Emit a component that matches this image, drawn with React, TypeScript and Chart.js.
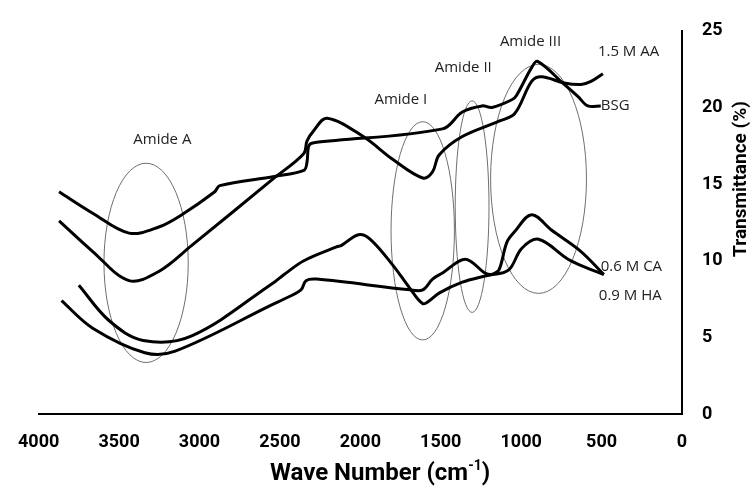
import React, { useEffect, useRef } from "react";
import { Chart, registerables } from "chart.js";

Chart.register(...registerables);

// ---- Data (wave number in cm-1, transmittance in %) ----
const bsgWave = [3873, 3664, 3438, 3253, 3110, 2905, 2874, 2535, 2351, 2332, 2320, 2289, 1489, 1366, 1243, 1182, 1058, 1028, 935, 898, 732, 646, 585, 505];
const bsgT = [14.5, 13.1, 11.8, 12.2, 13.0, 14.5, 14.9, 15.5, 15.9, 16.4, 17.5, 17.7, 18.6, 19.7, 20.1, 20.0, 20.5, 20.8, 22.6, 23.0, 21.5, 20.7, 20.1, 20.1];

const aaWave = [3873, 3664, 3438, 3253, 3048, 2535, 2351, 2332, 2289, 2207, 1982, 1797, 1612, 1551, 1510, 1366, 1138, 1040, 935, 874, 732, 628, 566, 492];
const aaT = [12.6, 10.6, 8.7, 9.3, 11.0, 15.4, 17.0, 17.8, 18.5, 19.3, 18.1, 16.6, 15.4, 15.8, 16.9, 18.1, 19.1, 19.6, 21.7, 22.0, 21.6, 21.5, 21.7, 22.2];

const caWave = [3750, 3563, 3350, 3048, 2535, 2474, 2351, 2148, 2117, 2012, 1938, 1797, 1692, 1612, 1569, 1508, 1366, 1225, 1182, 1138, 1089, 1040, 935, 812, 628, 486];
const caT = [8.4, 6.1, 4.8, 5.1, 8.6, 9.1, 10.0, 10.9, 11.0, 11.7, 11.4, 9.7, 8.2, 7.2, 7.4, 7.9, 8.6, 9.0, 9.1, 9.4, 11.2, 11.9, 13.0, 12.0, 10.6, 9.1];

const haWave = [3858, 3664, 3340, 3151, 2535, 2474, 2369, 2338, 2271, 1692, 1612, 1551, 1489, 1348, 1225, 1182, 1077, 997, 892, 708, 585, 486];
const haT = [7.4, 5.6, 4.0, 4.1, 7.2, 7.5, 8.1, 8.7, 8.8, 8.1, 8.1, 8.8, 9.2, 10.1, 9.2, 9.1, 9.4, 10.8, 11.4, 10.1, 9.5, 9.1];

const seriesNames = ["BSG", "1.5 M AA", "0.6 M CA", "0.9 M HA"];
const xTicks = [4000, 3500, 3000, 2500, 2000, 1500, 1000, 500, 0];
const yTicks = [0, 5, 10, 15, 20, 25];

// ---- Annotations (data-space geometry, kept apart from the values) ----
const regionNames = ["Amide A", "Amide I", "Amide II", "Amide III"];
const regionEllipses = [
  { cx: 3332, cy: 9.86, rx: 262, ry: 6.5 },
  { cx: 1612, cy: 11.95, rx: 197, ry: 7.12 },
  { cx: 1305, cy: 13.53, rx: 105, ry: 6.9 },
  { cx: 892, cy: 15.34, rx: 298, ry: 7.47 },
];
const regionLabelPos = [
  { x: 3231, y: 17.9 },
  { x: 1748, y: 20.5 },
  { x: 1360, y: 22.6 },
  { x: 942, y: 24.3 },
];
const seriesLabelPos = [
  { x: 505, y: 20.1 },
  { x: 523, y: 23.65 },
  { x: 505, y: 9.6 },
  { x: 517, y: 7.73 },
];

const toXY = (w: number[], t: number[]) => w.map((x, i) => ({ x, y: t[i] }));

export default function App() {
  const ref = useRef<HTMLCanvasElement>(null);

  useEffect(() => {
    document.body.style.margin = "0";
    const canvas = ref.current;
    if (!canvas) return;

    const overlay = {
      id: "overlay",
      beforeDatasetsDraw(chart: any) {
        const { ctx } = chart;
        const xs = chart.scales.x;
        const ys = chart.scales.y;
        ctx.save();
        ctx.strokeStyle = "#6e6e6e";
        ctx.lineWidth = 1;
        regionEllipses.forEach((e) => {
          const px = xs.getPixelForValue(e.cx);
          const py = ys.getPixelForValue(e.cy);
          const rx = Math.abs(xs.getPixelForValue(e.cx + e.rx) - px);
          const ry = Math.abs(ys.getPixelForValue(e.cy + e.ry) - py);
          ctx.beginPath();
          ctx.ellipse(px, py, rx, ry, 0, 0, Math.PI * 2);
          ctx.stroke();
        });
        ctx.restore();
      },
      afterDatasetsDraw(chart: any) {
        const { ctx } = chart;
        const xs = chart.scales.x;
        const ys = chart.scales.y;
        ctx.save();
        ctx.fillStyle = "#222";
        ctx.font = "15px 'Open Sans'";
        ctx.textBaseline = "middle";
        ctx.textAlign = "center";
        regionNames.forEach((n, i) => {
          ctx.fillText(n, xs.getPixelForValue(regionLabelPos[i].x), ys.getPixelForValue(regionLabelPos[i].y));
        });
        ctx.textAlign = "left";
        seriesNames.forEach((n, i) => {
          ctx.fillText(n, xs.getPixelForValue(seriesLabelPos[i].x), ys.getPixelForValue(seriesLabelPos[i].y));
        });

        // Axis titles
        ctx.fillStyle = "#000";
        const main = "Wave Number (cm";
        const sup = "-1";
        const close = ")";
        ctx.font = "bold 24px Roboto";
        const wMain = ctx.measureText(main).width;
        const wClose = ctx.measureText(close).width;
        ctx.font = "bold 14px Roboto";
        const wSup = ctx.measureText(sup).width;
        const total = wMain + wSup + wClose;
        const cx = 380;
        let sx = cx - total / 2;
        const ty = 474;
        ctx.textAlign = "left";
        ctx.font = "bold 24px Roboto";
        ctx.fillText(main, sx, ty);
        sx += wMain;
        ctx.font = "bold 14px Roboto";
        ctx.fillText(sup, sx, ty - 8);
        sx += wSup;
        ctx.font = "bold 24px Roboto";
        ctx.fillText(close, sx, ty);

        ctx.translate(741, 179);
        ctx.rotate(-Math.PI / 2);
        ctx.textAlign = "center";
        ctx.font = "bold 19px Roboto";
        ctx.fillText("Transmittance (%)", 0, 0);
        ctx.restore();
      },
    };

    const mk = (label: string, w: number[], t: number[]) => ({
      label,
      data: toXY(w, t),
      borderColor: "#000",
      backgroundColor: "#000",
      borderWidth: 3,
      pointRadius: 0,
      tension: 0.35,
      fill: false,
    });

    const chart = new Chart(canvas, {
      type: "line",
      data: {
        datasets: [
          mk(seriesNames[0], bsgWave, bsgT),
          mk(seriesNames[1], aaWave, aaT),
          mk(seriesNames[2], caWave, caT),
          mk(seriesNames[3], haWave, haT),
        ],
      },
      options: {
        responsive: false,
        animation: false,
        devicePixelRatio: 1,
        layout: { padding: { left: 32, top: 26, right: 0, bottom: 0 } },
        plugins: { legend: { display: false }, tooltip: { enabled: false } },
        scales: {
          x: {
            type: "linear",
            reverse: true,
            min: 0,
            max: 4000,
            position: "bottom",
            grid: { display: false, drawTicks: false },
            border: { display: true, color: "#000", width: 2 },
            afterBuildTicks: (s: any) => {
              s.ticks = xTicks.map((v) => ({ value: v }));
            },
            afterFit: (s: any) => {
              s.height = 74;
            },
            ticks: {
              padding: 18,
              color: "#000",
              font: { family: "Roboto", weight: "bold", size: 18 },
              maxRotation: 0,
              autoSkip: false,
              callback: (v: any) => String(v),
            },
          },
          y: {
            type: "linear",
            min: 0,
            max: 25,
            position: "right",
            grid: { display: false, drawTicks: false },
            border: { display: true, color: "#000", width: 2 },
            afterBuildTicks: (s: any) => {
              s.ticks = yTicks.map((v) => ({ value: v }));
            },
            afterFit: (s: any) => {
              s.width = 71;
            },
            ticks: {
              padding: 20,
              color: "#000",
              font: { family: "Roboto", weight: "bold", size: 18 },
              callback: (v: any) => String(v),
            },
          },
        },
      },
      plugins: [overlay],
    } as any);

    return () => chart.destroy();
  }, []);

  return (
    <div style={{ width: 753, height: 488 }}>
      <canvas ref={ref} width={753} height={488} />
    </div>
  );
}
